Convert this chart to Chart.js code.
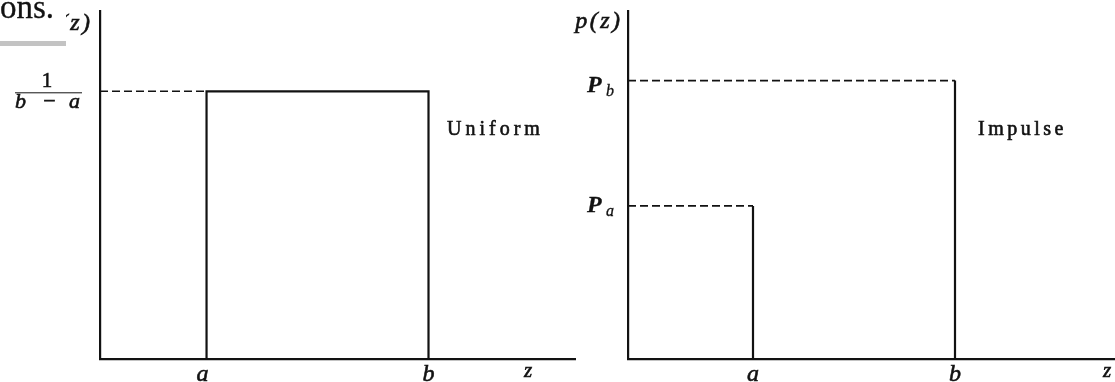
<!DOCTYPE html>
<html>
<head>
<meta charset="utf-8">
<script src="https://cdn.jsdelivr.net/npm/chart.js@4/dist/chart.umd.min.js"></script>
<style>
  html, body { margin: 0; padding: 0; background: #fff; overflow: hidden; }
  #wrap { position: relative; width: 1115px; height: 382px; }
  canvas { position: absolute; top: 0; }
</style>
</head>
<body>
<div id="wrap">
  <canvas id="uniform" width="600" height="382" style="left:0"></canvas>
  <canvas id="impulse" width="575" height="382" style="left:540px"></canvas>
</div>
<script>
// Uniform density: edges a, b and the constant height 1/(b - a)
const uniformEdges = [2.4, 7.4];
const uniformHeight = [1.0];
const uniformRange = { xMax: 10.7, yMax: 1.3 };

// Impulse (salt-and-pepper) density: positions a, b and heights Pa, Pb
const impulsePositions = [2.5, 6.54];
const impulseHeights = [0.55, 1.0];
const impulseRange = { xMax: 9.74, yMax: 1.25 };

// Axis labels
const xTickLabels = ['a', 'b'];
const xAxisLabel = 'z';
const yAxisLabel = 'p(z)';
const impulseTickNames = ['P', 'P'];
const impulseTickSubs = ['a', 'b'];
const curveNames = ['Uniform', 'Impulse'];

const INK = '#121212';
const SERIF = '"Liberation Serif"';

function drawText(ctx, s, x, y, font, align, spacing, weight) {
  ctx.save();
  ctx.font = font;
  ctx.fillStyle = INK;
  ctx.strokeStyle = INK;
  ctx.lineWidth = weight == null ? 0.6 : weight;
  ctx.textBaseline = 'alphabetic';
  const chars = [...s];
  const widths = chars.map(c => ctx.measureText(c).width);
  const gap = spacing || 0;
  const total = widths.reduce((p, w) => p + w, 0) + gap * (chars.length - 1);
  let cx = align === 'right' ? x - total : align === 'center' ? x - total / 2 : x;
  ctx.textAlign = 'left';
  chars.forEach((c, i) => {
    ctx.fillText(c, cx, y);
    if (ctx.lineWidth > 0) ctx.strokeText(c, cx, y);
    cx += widths[i] + gap;
  });
  ctx.restore();
}

function scaleOptions(max) {
  return {
    type: 'linear', min: 0, max: max,
    grid: { display: false, drawTicks: false },
    ticks: { display: false },
    border: { display: true, color: INK, width: 2.2 }
  };
}

function baseOptions(range, padding) {
  return {
    responsive: false,
    animation: false,
    devicePixelRatio: 1,
    layout: { padding: padding },
    plugins: { legend: { display: false }, tooltip: { enabled: false } },
    elements: { point: { radius: 0 }, line: { tension: 0 } },
    scales: { x: scaleOptions(range.xMax), y: scaleOptions(range.yMax) }
  };
}

function solid(points) {
  return { data: points, showLine: true, borderColor: INK, borderWidth: 2.2, pointRadius: 0, clip: false };
}
function dashed(points) {
  return { data: points, showLine: true, borderColor: INK, borderWidth: 1.6, borderDash: [8, 4], pointRadius: 0, clip: false };
}

const [ua, ub] = uniformEdges;
const uh = uniformHeight[0];

const uniformLabels = {
  id: 'uniformLabels',
  afterDraw(chart) {
    const ctx = chart.ctx;
    const xs = chart.scales.x, ys = chart.scales.y;
    const left = chart.chartArea.left, bottom = chart.chartArea.bottom;

    // vertical axis title (its left part sits under the heading strip)
    drawText(ctx, yAxisLabel, left - 10, 30, 'italic 24px ' + SERIF, 'right', 2.5);
    ctx.fillStyle = '#fff';
    ctx.fillRect(0, 0, 66, 40);
    drawText(ctx, 'ons.', 0, 18, '33px ' + SERIF, 'left', 0, 0.3);
    ctx.fillStyle = '#c3c3c3';
    ctx.fillRect(0, 41, 66, 5);

    // 1/(b - a) fraction beside the height level
    const yh = ys.getPixelForValue(uh);
    drawText(ctx, '1', 47, yh - 4, '21px ' + SERIF, 'center');
    ctx.save();
    ctx.strokeStyle = INK; ctx.lineWidth = 1;
    ctx.beginPath(); ctx.moveTo(15, yh + 1.5); ctx.lineTo(82, yh + 1.5); ctx.stroke();
    ctx.restore();
    drawText(ctx, 'b', 15, yh + 17, 'italic 22px ' + SERIF, 'left');
    drawText(ctx, '\u2212', 49.5, yh + 17, '22px ' + SERIF, 'center');
    drawText(ctx, 'a', 69, yh + 17, 'italic 22px ' + SERIF, 'left');

    // x tick labels and axis name
    drawText(ctx, xTickLabels[0], xs.getPixelForValue(ua) - 4, bottom + 22, 'italic 24px ' + SERIF, 'center');
    drawText(ctx, xTickLabels[1], xs.getPixelForValue(ub), bottom + 22, 'italic 24px ' + SERIF, 'center');
    drawText(ctx, xAxisLabel, 528, bottom + 18, 'italic 21px ' + SERIF, 'center');

    drawText(ctx, curveNames[0], 447, 135, '20px ' + SERIF, 'left', 4);
  }
};

const impulseLabels = {
  id: 'impulseLabels',
  afterDraw(chart) {
    const ctx = chart.ctx;
    const xs = chart.scales.x, ys = chart.scales.y;
    const left = chart.chartArea.left, bottom = chart.chartArea.bottom;

    drawText(ctx, yAxisLabel, left - 8, 28, 'italic 24px ' + SERIF, 'right', 2.5);

    // level labels P_a, P_b
    const drops = [6, 11];
    impulseHeights.forEach((h, i) => {
      const y = ys.getPixelForValue(h) + drops[i];
      drawText(ctx, impulseTickNames[i], left - 41, y, 'italic bold 24px ' + SERIF, 'left', 0, 0.3);
      drawText(ctx, impulseTickSubs[i], left - 22, y + 4, 'italic 16px ' + SERIF, 'left', 0, 0.3);
    });

    impulsePositions.forEach((p, i) => {
      drawText(ctx, xTickLabels[i], xs.getPixelForValue(p), bottom + 22, 'italic 24px ' + SERIF, 'center');
    });
    drawText(ctx, xAxisLabel, 1107 - 540, bottom + 18, 'italic 21px ' + SERIF, 'center');

    drawText(ctx, curveNames[1], 978 - 540, 135, '20px ' + SERIF, 'left', 3.5);
  }
};

function build() {
  new Chart(document.getElementById('uniform'), {
    type: 'scatter',
    data: {
      datasets: [
        solid([{ x: ua, y: 0 }, { x: ua, y: uh }, { x: ub, y: uh }, { x: ub, y: 0 }]),
        dashed([{ x: 0, y: uh }, { x: ua, y: uh }])
      ]
    },
    options: baseOptions(uniformRange, { left: 100, right: 25, top: 11, bottom: 23 }),
    plugins: [uniformLabels]
  });

  const impulseSets = [];
  impulsePositions.forEach((p, i) => {
    const h = impulseHeights[i];
    impulseSets.push(dashed([{ x: 0, y: h }, { x: p, y: h }]));
    impulseSets.push(solid([{ x: p, y: h }, { x: p, y: 0 }]));
  });

  new Chart(document.getElementById('impulse'), {
    type: 'scatter',
    data: { datasets: impulseSets },
    options: baseOptions(impulseRange, { left: 88, right: 0, top: 11, bottom: 23 }),
    plugins: [impulseLabels]
  });
}

// make sure the serif faces are ready before painting text on the canvases
Promise.all([
  document.fonts.load('20px "Liberation Serif"'),
  document.fonts.load('italic 24px "Liberation Serif"'),
  document.fonts.load('italic bold 24px "Liberation Serif"')
]).then(build, build);
</script>
</body>
</html>
